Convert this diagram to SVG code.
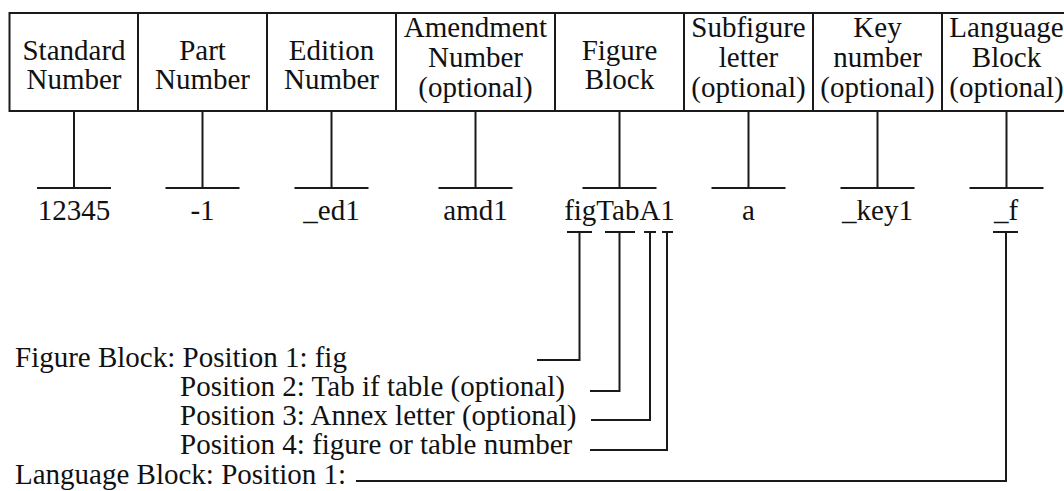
<svg xmlns="http://www.w3.org/2000/svg" width="1064" height="491" viewBox="0 0 1064 491">
<style>
text{font-family:"Liberation Serif","Times New Roman",serif;font-size:29px;fill:#111}
.c{text-anchor:middle}
.ln{stroke:#1a1a1a;stroke-width:2;fill:none}
</style>
<rect x="0" y="0" width="1064" height="491" fill="#fff"/>
<g id="header">
<rect class="ln" x="9.5" y="13" width="1061.5" height="98"/>
<path class="ln" d="M138 13V111M267 13V111M396 13V111M555 13V111M684 13V111M813 13V111M942 13V111"/>
</g>
<g id="n-standard"><text class="c" x="74" y="60">Standard</text><text class="c" x="74" y="89">Number</text><text class="c" x="74" y="220">12345</text></g>
<g id="n-part"><text class="c" x="202.5" y="60">Part</text><text class="c" x="202.5" y="89">Number</text><text class="c" x="202.5" y="220">-1</text></g>
<g id="n-edition"><text class="c" x="331.5" y="60">Edition</text><text class="c" x="331.5" y="89">Number</text><text class="c" x="331.5" y="220">_ed1</text></g>
<g id="n-amendment"><text class="c" x="475.5" y="37">Amendment</text><text class="c" x="475.5" y="67">Number</text><text class="c" x="475.5" y="97">(optional)</text><text class="c" x="475.5" y="220">amd1</text></g>
<g id="n-figure"><text class="c" x="619.5" y="60">Figure</text><text class="c" x="619.5" y="89">Block</text><text class="c" x="619.5" y="220">figTabA1</text></g>
<g id="n-subfigure"><text class="c" x="748.5" y="37">Subfigure</text><text class="c" x="748.5" y="67">letter</text><text class="c" x="748.5" y="97">(optional)</text><text class="c" x="748.5" y="220">a</text></g>
<g id="n-key"><text class="c" x="877.5" y="37">Key</text><text class="c" x="877.5" y="67">number</text><text class="c" x="877.5" y="97">(optional)</text><text class="c" x="877.5" y="220">_key1</text></g>
<g id="n-language"><text class="c" x="1006.5" y="37">Language</text><text class="c" x="1006.5" y="67">Block</text><text class="c" x="1006.5" y="97">(optional)</text><text class="c" x="1006" y="220">_f</text></g>
<g id="legend">
<text x="15" y="367">Figure Block: Position 1: fig</text>
<text x="180" y="396">Position 2: Tab if table (optional)</text>
<text x="180" y="425">Position 3: Annex letter (optional)</text>
<text x="180" y="454">Position 4: figure or table number</text>
<text x="15" y="484">Language Block: Position 1:</text>
</g>
<g id="connectors" class="ln">
<path class="ln" d="M74 111V188M37 188H111"/>
<path class="ln" d="M202.5 111V188M165.5 188H239.5"/>
<path class="ln" d="M331.5 111V188M294.5 188H368.5"/>
<path class="ln" d="M475.5 111V188M438.5 188H512.5"/>
<path class="ln" d="M619.5 111V188M582.5 188H656.5"/>
<path class="ln" d="M748.5 111V188M711.5 188H785.5"/>
<path class="ln" d="M877.5 111V188M840.5 188H914.5"/>
<path class="ln" d="M1006.5 111V188M969.5 188H1043.5"/>
<path class="ln" d="M567 232H592M579.5 232V360H537"/>
<path class="ln" d="M605 232H635M619.5 232V391H590"/>
<path class="ln" d="M644 232H656M650 232V420H591"/>
<path class="ln" d="M662 232H673M667 232V450H590"/>
<path class="ln" d="M993 232H1018M1006 232V481H356"/>
</g>
</svg>
